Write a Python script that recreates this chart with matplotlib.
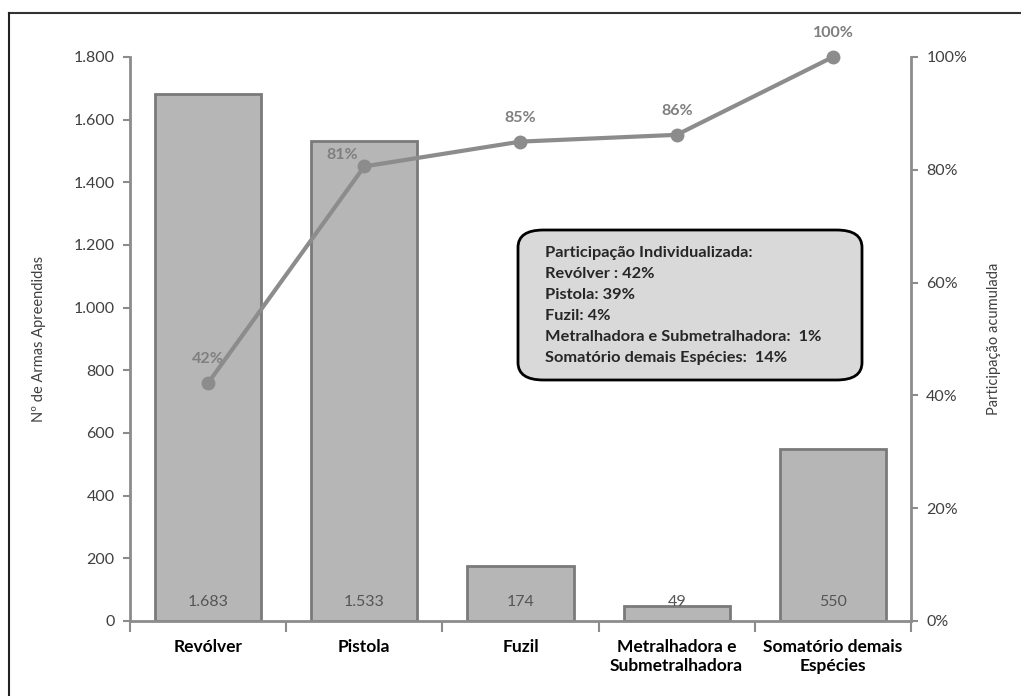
import matplotlib.pyplot as plt
import matplotlib.ticker as mticker
from matplotlib.patches import FancyBboxPatch
from matplotlib.lines import Line2D
import numpy as np

categorias = ["Revólver", "Pistola", "Fuzil", "Metralhadora e\nSubmetralhadora", "Somatório demais\nEspécies"]
armas = [1683, 1533, 174, 49, 550]
acumulado = [42.2, 80.6, 85.0, 86.2, 100.0]
rotulos_acum = ["42%", "81%", "85%", "86%", "100%"]
rotulos_barras = ["1.683", "1.533", "174", "49", "550"]
caixa_linhas = ["Participação Individualizada:", "Revólver : 42%", "Pistola: 39%", "Fuzil: 4%",
                "Metralhadora e Submetralhadora:  1%", "Somatório demais Espécies:  14%"]

plt.rcParams['font.family'] = ['Lato', 'DejaVu Sans']

W, H = 1021, 696
fig = plt.figure(figsize=(W / 100, H / 100), dpi=100)
ax = fig.add_axes([130 / W, 1 - 621 / H, (911 - 130) / W, (621 - 57) / H])
ax2 = ax.twinx()

cinza = '#8c8c8c'
x = np.arange(len(categorias))
ax.bar(x, armas, width=0.68, color='#b6b6b6', edgecolor='#7a7a7a', linewidth=2, zorder=2)
for xi, r in zip(x, rotulos_barras):
    ax.text(xi, 62, r, ha='center', va='center', fontsize=11.5, color='#555555', zorder=3)

ax.set_xlim(-0.5, len(categorias) - 0.5)
ax.set_ylim(0, 1800)
ax.set_yticks(range(0, 1801, 200))
ax.yaxis.set_major_formatter(mticker.FuncFormatter(lambda v, p: f"{int(v):,}".replace(",", ".")))
ax.set_xticks(x)
ax.set_xticklabels(categorias, fontsize=12.5, fontweight='bold')
ax.set_xticks(np.arange(-0.5, len(categorias)), minor=True)
ax.tick_params(axis='x', which='major', length=0, pad=13)
ax.tick_params(axis='x', which='minor', length=8, width=1.5, color=cinza, direction='out')
ax.tick_params(axis='y', length=5, width=1.5, color=cinza, labelsize=11.5, labelcolor='#404040', pad=6)
ax.set_ylabel("Nº de Armas Apreendidas", fontsize=10.5, color='#404040', labelpad=20)

ax2.plot(x, acumulado, color=cinza, lw=3, marker='o', markersize=9, zorder=4, clip_on=False)
ax2.set_ylim(0, 100)
ax2.set_yticks(range(0, 101, 20))
ax2.yaxis.set_major_formatter(mticker.FuncFormatter(lambda v, p: f"{int(v)}%"))
ax2.tick_params(axis='y', length=5, width=1.5, color=cinza, labelsize=11.5, labelcolor='#404040', pad=6)
ax2.set_ylabel("Participação acumulada", fontsize=10.5, color='#404040', labelpad=14)
for i, (xi, v, r) in enumerate(zip(x, acumulado, rotulos_acum)):
    dx = -0.14 if i == 1 else 0
    dy = 2 if i == 1 else 4.2
    ax2.text(xi + dx, v + dy, r, ha='center', va='center', fontsize=11.5, fontweight='bold',
             color='#7f7f7f', clip_on=False)

for a in (ax, ax2):
    for s in a.spines.values():
        s.set_visible(False)
ax.spines['left'].set_visible(True)
ax.spines['left'].set_color(cinza)
ax.spines['left'].set_linewidth(2)
ax.spines['bottom'].set_visible(True)
ax.spines['bottom'].set_color(cinza)
ax.spines['bottom'].set_linewidth(2)
ax2.spines['right'].set_visible(True)
ax2.spines['right'].set_color(cinza)
ax2.spines['right'].set_linewidth(2)

# caixa de participação individualizada
caixa = FancyBboxPatch((518 / W, 1 - 380 / H), (862 - 518) / W, (380 - 230) / H,
                       boxstyle="round,pad=0,rounding_size=0.025", transform=fig.transFigure,
                       facecolor='#d9d9d9', edgecolor='black', linewidth=2, zorder=5)
fig.patches.append(caixa)
for i, linha in enumerate(caixa_linhas):
    fig.text(545 / W, 1 - (253 + 21 * i) / H, linha, ha='left', va='center', fontsize=11.8,
             fontweight='bold', color='#262626', zorder=6)

# moldura
fig.add_artist(Line2D([9 / W, 1], [1 - 13 / H, 1 - 13 / H], transform=fig.transFigure, color='#333333', lw=1.5))
fig.add_artist(Line2D([9 / W, 9 / W], [0, 1 - 13 / H], transform=fig.transFigure, color='#222222', lw=1.5))

fig.savefig("out.png", dpi=100)
